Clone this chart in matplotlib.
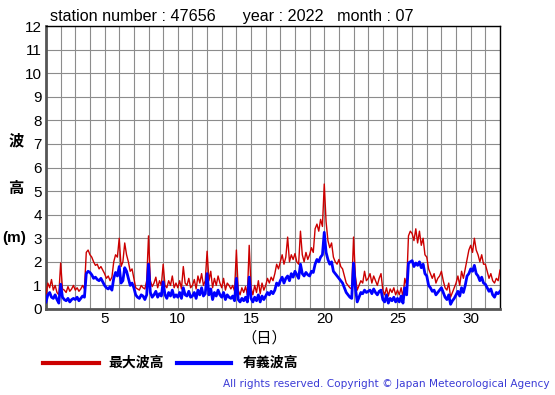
import numpy as np
import matplotlib
matplotlib.use("Agg")
import matplotlib.pyplot as plt

plt.rcParams['font.family'] = ['Liberation Sans', 'Noto Sans CJK JP', 'DejaVu Sans']

# 3-hourly readings, day 1 00h .. day 31 21h, plus day 32 00h
sig_wave = [
    0.3, 0.6, 0.7, 0.5, 0.45, 0.6, 0.4, 0.25,
    1.05, 0.5, 0.4, 0.35, 0.45, 0.3, 0.4, 0.45,
    0.4, 0.5, 0.35, 0.45, 0.55, 0.5, 1.5, 1.6,
    1.55, 1.45, 1.3, 1.35, 1.25, 1.2, 1.3, 1.15,
    1.0, 0.9, 0.85, 0.95, 0.8, 1.3, 1.55, 1.4,
    1.8, 1.1, 1.2, 1.75, 1.6, 1.3, 1.0, 1.1,
    0.9, 0.6, 0.5, 0.45, 0.6, 0.55, 0.4, 0.6,
    1.9, 0.7, 0.5, 0.6, 0.75, 0.5, 0.65, 0.55,
    1.15, 0.6, 0.45, 0.7, 0.55, 0.8, 0.5, 0.6,
    0.5, 0.7, 0.45, 0.9, 0.6, 0.55, 0.75, 0.5,
    0.55, 0.7, 0.45, 0.8, 0.6, 0.9, 0.55, 0.65,
    1.5, 0.6, 0.85, 0.4, 0.7, 0.55, 0.8, 0.6,
    0.5, 0.7, 0.4, 0.6, 0.5, 0.45, 0.55, 0.35,
    1.3, 0.4, 0.3, 0.45, 0.35, 0.5, 0.3, 1.35,
    0.45, 0.3, 0.5, 0.35, 0.6, 0.3, 0.55, 0.4,
    0.55, 0.7, 0.6, 0.75, 0.65, 0.8, 1.1, 1.0,
    1.2, 1.35, 1.1, 1.3, 1.4, 1.2, 1.5, 1.35,
    1.6, 1.45, 1.3, 1.9, 1.5, 1.4, 1.55, 1.45,
    1.4, 1.6, 1.55, 1.9, 2.1, 2.0, 2.2, 2.3,
    3.25, 2.4, 2.1, 1.9, 2.0, 1.6, 1.5, 1.4,
    1.3, 1.2, 1.1, 0.9, 0.7, 0.6, 0.5, 0.45,
    1.95, 0.9, 0.3, 0.5, 0.7, 0.65, 0.8, 0.7,
    0.75, 0.8, 0.65, 0.85, 0.7, 0.6, 0.75, 0.8,
    0.4, 0.3, 0.6, 0.25, 0.45, 0.35, 0.5, 0.3,
    0.45, 0.3, 0.55, 0.25, 0.9, 0.6, 1.95, 2.0,
    2.05, 1.8, 1.95, 1.85, 2.0, 1.75, 1.9, 1.5,
    1.4, 1.0, 0.9, 0.75, 0.8, 0.6, 0.7, 0.8,
    0.9, 0.7, 0.5, 0.4, 0.6, 0.2, 0.35, 0.45,
    0.6, 0.75, 0.55, 0.9, 0.7, 1.0, 1.4, 1.5,
    1.7, 1.6, 1.85, 1.5, 1.4, 1.2, 1.35, 1.1,
    1.05, 0.9, 0.75, 0.85, 0.6, 0.5, 0.7, 0.65,
    0.75,
]

max_wave = [
    0.6, 1.1, 0.9, 1.25, 0.8, 1.0, 0.7, 0.6,
    1.95, 0.85, 0.8, 0.7, 0.95, 0.75, 0.85, 1.0,
    0.8, 0.9, 0.75, 0.85, 1.0, 0.85, 2.4, 2.5,
    2.3, 2.2, 2.0, 1.85, 1.9, 1.7, 1.8, 1.65,
    1.5, 1.3, 1.4, 1.2, 1.35, 2.0, 2.3, 2.2,
    3.0, 1.8, 2.0, 2.8, 2.3, 2.0, 1.6, 1.7,
    1.3, 0.9, 0.85, 0.8, 1.0, 0.9, 0.85, 1.2,
    3.1, 1.2, 0.95, 1.1, 1.35, 0.9, 1.2, 1.0,
    1.9, 1.0, 0.9, 1.2, 1.0, 1.4, 0.9, 1.1,
    0.9, 1.2, 0.85, 1.8, 1.1, 1.0, 1.3, 0.9,
    1.0, 1.25, 0.85, 1.4, 1.1, 1.5, 1.0, 1.2,
    2.45, 1.2, 1.6, 0.9, 1.3, 1.0, 1.4, 1.1,
    0.9, 1.3, 0.8, 1.1, 1.0, 0.85, 1.0, 0.75,
    2.5, 0.8, 0.6, 0.9, 0.7, 0.95, 0.6, 2.7,
    0.9, 0.6, 1.0, 0.7, 1.2, 0.65, 1.1, 0.8,
    1.0, 1.3, 1.1, 1.35, 1.2, 1.5, 1.9, 1.7,
    2.0, 2.3, 1.9, 2.2, 3.05, 2.0, 2.3, 2.1,
    2.35, 2.0, 1.9, 3.3, 2.3, 2.0, 2.4, 2.1,
    2.3, 2.6, 2.4, 3.4, 3.6, 3.3, 3.8, 3.5,
    5.3, 3.7, 2.9, 2.6, 2.8, 2.2, 2.0, 1.9,
    2.1, 1.8, 1.7, 1.4, 1.1, 1.0, 0.9, 0.85,
    3.05, 1.4, 0.8, 1.0, 1.2, 1.1, 1.6, 1.2,
    1.3, 1.5, 1.1, 1.4, 1.2, 1.0, 1.3, 1.5,
    0.8, 0.6, 0.9, 0.55, 0.85, 0.7, 0.9, 0.6,
    0.8, 0.6, 0.9, 0.5, 1.3, 1.0, 3.1, 3.3,
    3.2, 2.9, 3.4, 2.8, 3.3, 2.7, 3.0, 2.3,
    2.2, 1.7, 1.5, 1.3, 1.5, 1.1, 1.3, 1.4,
    1.6, 1.2, 0.9, 0.8, 1.1, 0.5, 0.7, 0.9,
    1.1, 1.4, 1.0, 1.6, 1.3, 1.7, 2.1, 2.5,
    2.7, 2.4, 3.0, 2.5, 2.3, 2.0, 2.3, 1.9,
    1.9, 1.6, 1.3, 1.5, 1.2, 1.1, 1.3, 1.2,
    1.65,
]

days = 1 + np.arange(len(sig_wave)) / 8.0
x_ticks = [5, 10, 15, 20, 25, 30]
y_ticks = list(range(0, 13))

fig = plt.figure(figsize=(5.55, 3.95), dpi=100)
ax = fig.add_axes([46/555, 86/395, 454/555, 283/395])

ax.plot(days, max_wave, color='#cc0000', lw=1.0, zorder=3)
ax.plot(days, sig_wave, color='#0000ff', lw=2.0, zorder=4)

ax.set_xlim(1, 32)
ax.set_ylim(0, 12)
ax.set_xticks(np.arange(1, 33), minor=True)
ax.set_xticks(x_ticks)
ax.set_yticks(y_ticks)
ax.grid(True, which='both', color='#8c8c8c', lw=0.8)
ax.set_axisbelow(True)
ax.tick_params(which='both', length=0, labelsize=11)
ax.tick_params(axis='y', pad=3)
ax.tick_params(axis='x', pad=2)

for s in ['top', 'right']:
    ax.spines[s].set_color('black')
    ax.spines[s].set_linewidth(1.0)
for s in ['left', 'bottom']:
    ax.spines[s].set_color('#555555')
    ax.spines[s].set_linewidth(2.0)

fig.text(50/555, 1 - 16/395, 'station number : 47656      year : 2022   month : 07',
         fontsize=11.6, va='center', ha='left')

fig.text(16/555, 1 - 141/395, '波', fontsize=11, ha='center', va='center', fontweight='bold')
fig.text(16/555, 1 - 189/395, '高', fontsize=11, ha='center', va='center', fontweight='bold')
fig.text(14/555, 1 - 238/395, '(m)', fontsize=11, ha='center', va='center', fontweight='bold')
fig.text(264/555, 1 - 338/395, '（日）', fontsize=11, ha='center', va='center')

# legend
fig.add_artist(plt.Line2D([43/555, 99/555], [1 - 363/395, 1 - 363/395], color='#cc0000', lw=3))
fig.text(108/555, 1 - 363/395, '最大波高', fontsize=10, ha='left', va='center', fontweight='bold')
fig.add_artist(plt.Line2D([177/555, 231/555], [1 - 363/395, 1 - 363/395], color='#0000ff', lw=3))
fig.text(243/555, 1 - 363/395, '有義波高', fontsize=10, ha='left', va='center', fontweight='bold')

fig.text(550/555, 1 - 384/395, 'All rights reserved. Copyright © Japan Meteorological Agency',
         fontsize=7.6, ha='right', va='center', color='#3b3bd6', family='DejaVu Sans')

fig.savefig('out.png', dpi=100)
